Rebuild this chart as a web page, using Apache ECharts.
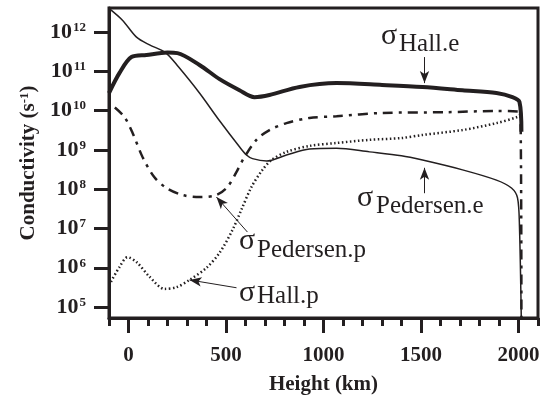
<!DOCTYPE html>
<html>
<head>
<meta charset="utf-8">
<script src="https://cdn.jsdelivr.net/npm/echarts@6/dist/echarts.min.js"></script>
<style>
  html, body { margin: 0; padding: 0; background: #fff; }
  #chart { width: 546px; height: 400px; }
</style>
</head>
<body>
<div id="chart"></div>
<script>
// height (km) and conductivity (s^-1)
var hallEX = [-100, -46, 15, 92, 200, 251, 364, 467, 569, 646, 723, 877, 1067, 1300, 1508, 1713, 1887, 1969, 2005, 2015];
var hallEY = [2.8e10, 9.1e10, 2.3e11, 2.6e11, 3.0e11, 2.9e11, 1.45e11, 6.3e10, 3.3e10, 2.2e10, 2.5e10, 4.0e10, 5.0e10, 4.5e10, 4.0e10, 3.3e10, 2.8e10, 2.2e10, 1.66e10, 2.9e9];

var pedEX = [-100, -31, 41, 108, 190, 256, 364, 467, 569, 605, 636, 708, 810, 928, 1067, 1236, 1400, 1508, 1713, 1887, 1964, 1995, 2005, 2015];
var pedEY = [4.0e12, 2.0e12, 7.4e11, 4.7e11, 3.0e11, 1.3e11, 2.8e10, 5.5e9, 1.2e9, 7.4e8, 6.0e8, 5.2e8, 7.4e8, 1.05e9, 1.1e9, 8.9e8, 7.1e8, 5.5e8, 3.1e8, 1.7e8, 1.07e8, 6.0e7, 1.1e7, 3e4];

var pedPX = [-70, -21, 21, 72, 133, 195, 277, 364, 451, 508, 554, 590, 656, 723, 810, 928, 1067, 1300, 1631, 1887, 1995, 2010, 2015];
var pedPY = [1.2e10, 6.9e9, 2.7e9, 6.6e8, 2.0e8, 1.07e8, 7.1e7, 6.3e7, 7.1e7, 1.15e8, 2.75e8, 6.0e8, 1.8e9, 3.2e9, 4.8e9, 6.5e9, 7.2e9, 8.7e9, 9.1e9, 9.8e9, 9.5e9, 9.1e9, 3e4];

var hallPX = [-90, -46, -5, 41, 108, 185, 246, 313, 400, 467, 533, 579, 631, 687, 733, 810, 928, 1067, 1236, 1400, 1508, 1713, 1887, 1995, 2010];
var hallPY = [4.4e5, 1.05e6, 1.86e6, 1.4e6, 5.9e5, 2.9e5, 3.2e5, 4.9e5, 1.0e6, 2.4e6, 9.1e6, 3.0e7, 1.15e8, 3.1e8, 5.5e8, 8.9e8, 1.26e9, 1.5e9, 1.8e9, 2.0e9, 2.4e9, 3.2e9, 4.8e9, 6.9e9, 7.9e9];

var xMajor = [0, 500, 1000, 1500, 2000];
var yExps = [5, 6, 7, 8, 9, 10, 11, 12];

var ink = '#231f20';
var serif = 'Liberation Serif';

function pairs(xs, ys) {
    return xs.map(function (x, i) { return [x, ys[i]]; });
}

// annotation arrow, drawn in data coordinates
function arrow(from, to) {
    return {
        type: 'line', data: [], silent: true,
        markLine: {
            silent: true, animation: false,
            label: { show: false },
            lineStyle: { color: ink, width: 1, type: 'solid' },
            data: [[
                { coord: from, symbol: 'none' },
                { coord: to, symbol: 'arrow', symbolSize: [7, 12] }
            ]]
        }
    };
}

function sigma(x, y, sub, sx, sy) {
    return [
        { type: 'text', left: x, top: y, style: { text: 'σ', font: '30px "Liberation Serif"', fill: ink } },
        { type: 'text', left: sx, top: sy, style: { text: sub, font: '25px "Liberation Serif"', fill: ink } }
    ];
}

var yTickVals = yExps.map(function (e) { return Math.pow(10, e); });

var chart = echarts.init(document.getElementById('chart'));
chart.setOption({
    animation: false,
    grid: {
        left: 109, right: 8, top: 8, bottom: 82,
        show: true, borderColor: ink, borderWidth: 3,
        outerBoundsMode: 'none'
    },
    xAxis: [{
        type: 'value', min: -100, max: 2100, interval: 100,
        axisLine: { show: true, onZero: false, lineStyle: { color: ink, width: 3 } },
        axisTick: { show: true, length: 8, lineStyle: { color: ink, width: 3 } },
        axisLabel: {
            margin: 27, color: ink, fontFamily: serif, fontWeight: 'bold', fontSize: 21,
            formatter: function (v) { return (v >= 0 && v % 500 === 0) ? String(v) : ''; }
        },
        splitLine: { show: false },
        name: 'Height (km)', nameLocation: 'middle', nameGap: 56,
        nameTextStyle: { color: ink, fontFamily: serif, fontWeight: 'bold', fontSize: 21 }
    }, {
        type: 'value', min: -100, max: 2100, interval: 100, position: 'bottom',
        axisLine: { show: false, onZero: false },
        axisTick: { show: true, length: 15, customValues: xMajor, lineStyle: { color: ink, width: 3 } },
        axisLabel: { show: false },
        splitLine: { show: false }
    }],
    yAxis: {
        type: 'log', logBase: 10, min: 52700, max: 4.08e12,
        axisLine: { show: true, onZero: false, lineStyle: { color: ink, width: 3 } },
        axisTick: { show: true, length: 15, customValues: yTickVals, lineStyle: { color: ink, width: 3 } },
        axisLabel: {
            customValues: yTickVals,
            margin: 23, color: ink,
            formatter: function (v) {
                return '{b|10}{s|' + Math.round(Math.log10(v)) + '}';
            },
            rich: {
                b: { fontFamily: serif, fontWeight: 'bold', fontSize: 22, color: ink, lineHeight: 22 },
                s: { fontFamily: serif, fontWeight: 'bold', fontSize: 13, color: ink, lineHeight: 13, verticalAlign: 'top', padding: [0, 0, 0, 1] }
            }
        },
        splitLine: { show: false },
        name: 'Conductivity (s{sup|-1})', nameLocation: 'middle', nameGap: 70,
        nameTextStyle: {
            color: ink, fontFamily: serif, fontWeight: 'bold', fontSize: 21,
            rich: { sup: { fontFamily: serif, fontWeight: 'bold', fontSize: 13, color: ink, verticalAlign: 'top' } }
        }
    },
    series: [{
        name: 'Hall.e', type: 'line', symbol: 'none', smooth: 0.3,
        lineStyle: { color: ink, width: 4 }, data: pairs(hallEX, hallEY)
    }, {
        name: 'Pedersen.e', type: 'line', symbol: 'none', smooth: 0.3,
        lineStyle: { color: ink, width: 1.5 }, data: pairs(pedEX, pedEY)
    }, {
        name: 'Pedersen.p', type: 'line', symbol: 'none', smooth: 0.3,
        lineStyle: { color: ink, width: 2.5, type: [10, 6, 3, 6] }, data: pairs(pedPX, pedPY)
    }, {
        name: 'Hall.p', type: 'line', symbol: 'none', smooth: 0.3,
        lineStyle: { color: ink, width: 2.5, type: [1.5, 2.5] }, data: pairs(hallPX, hallPY)
    },
    arrow([1518, 2.3e11], [1518, 5.0e10]),
    arrow([1518, 7.9e7], [1518, 3.5e8]),
    arrow([610, 8.1e6], [451, 6.3e7]),
    arrow([554, 3.1e5], [313, 4.9e5])
    ],
    graphic: [].concat(
        sigma(381, 21, 'Hall.e', 399, 32),
        sigma(357, 183, 'Pedersen.e', 376, 194),
        sigma(239, 226, 'Pedersen.p', 257, 238),
        sigma(239, 278, 'Hall.p', 257, 284)
    )
});
</script>
</body>
</html>
